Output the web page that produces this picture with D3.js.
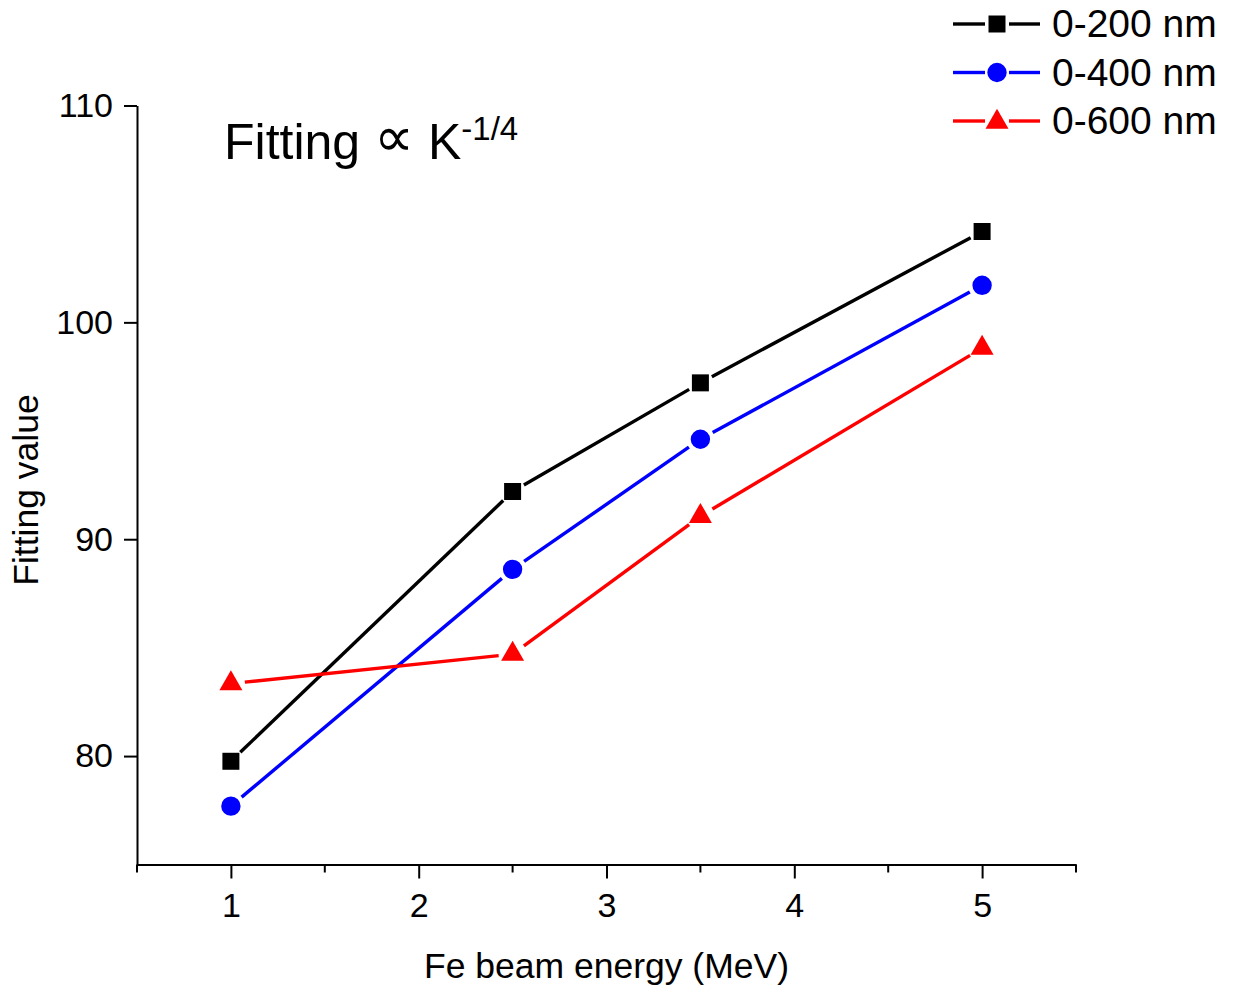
<!DOCTYPE html>
<html>
<head>
<meta charset="utf-8">
<script src="https://cdn.jsdelivr.net/npm/d3@7"></script>
<style>
  html, body { margin: 0; padding: 0; background: #fff; }
  svg { display: block; font-family: "Liberation Sans", Arial, sans-serif; }
</style>
</head>
<body>
<svg id="chart" width="1234" height="989"></svg>
<script>
// Beam energies (MeV)
const energies = [1, 2.5, 3.5, 5];
// Fitting values for each depth range
const depth200 = [79.76, 92.20, 97.21, 104.19];
const depth400 = [77.69, 88.61, 94.61, 101.71];
const depth600 = [83.34, 84.70, 91.06, 98.81];
const seriesNames = ["0-200 nm", "0-400 nm", "0-600 nm"];
const xTicks = [1, 2, 3, 4, 5];
const xMinorTicks = [0.5, 1.5, 2.5, 3.5, 4.5, 5.5];
const yTicks = [80, 90, 100, 110];

const series = [
  { name: seriesNames[0], values: depth200, color: "#000000", shape: "square" },
  { name: seriesNames[1], values: depth400, color: "#0000ff", shape: "circle" },
  { name: seriesNames[2], values: depth600, color: "#ff0000", shape: "triangle" }
];

const svg = d3.select("#chart");

const x = d3.scaleLinear().domain([0.5, 5.5]).range([137, 1076]);
const y = d3.scaleLinear().domain([75, 110]).range([864.5, 105.5]);

// marker shapes centred at (0,0)
function markerPath(shape) {
  if (shape === "square") return "M-8.5,-8.5H8.5V8.5H-8.5Z";
  if (shape === "circle") return d3.symbol(d3.symbolCircle, Math.PI * 9.7 * 9.7)();
  // triangle: apex up, centroid at origin
  const h = 20, w = 23;
  return `M0,${-2 * h / 3}L${w / 2},${h / 3}L${-w / 2},${h / 3}Z`;
}
const gapBy = { square: 13, circle: 14, triangle: 14 };

// x axis with major and minor ticks
const xAxisG = svg.append("g").attr("transform", `translate(0,${y(75)})`);
xAxisG.call(d3.axisBottom(x).tickValues(xTicks).tickFormat(d3.format("d"))
  .tickSize(14).tickSizeOuter(0).tickPadding(14));
xAxisG.selectAll(".minor").data(xMinorTicks).enter().append("line")
  .attr("class", "minor")
  .attr("x1", d => x(d)).attr("x2", d => x(d))
  .attr("y1", 0).attr("y2", 8)
  .attr("stroke", "#000").attr("stroke-width", 2);

// y axis
const yAxisG = svg.append("g").attr("transform", `translate(${x(0.5)},0)`);
yAxisG.call(d3.axisLeft(y).tickValues(yTicks).tickFormat(d3.format("d"))
  .tickSize(13).tickSizeOuter(0).tickPadding(11));

[xAxisG, yAxisG].forEach(g => {
  g.select(".domain").attr("stroke", "#000").attr("stroke-width", 2);
  g.selectAll(".tick line").attr("stroke", "#000").attr("stroke-width", 2);
  g.selectAll(".tick text").attr("font-size", 34).attr("fill", "#000")
    .attr("font-family", "Liberation Sans, Arial, sans-serif");
});

// axis titles
svg.append("text")
  .attr("x", (x(0.5) + x(5.5)) / 2).attr("y", 978)
  .attr("text-anchor", "middle").attr("font-size", 35.5)
  .text("Fe beam energy (MeV)");
svg.append("text")
  .attr("transform", `translate(38,${(y(75) + y(110)) / 2 + 5}) rotate(-90)`)
  .attr("text-anchor", "middle").attr("font-size", 35.5)
  .text("Fitting value");

// annotation
const ann = svg.append("text").attr("x", 224).attr("y", 159).attr("font-size", 50);
ann.append("tspan").text("Fitting ");
ann.append("tspan").attr("font-family", "DejaVu Sans").attr("font-size", 56).attr("dy", -3).text("\u221D");
ann.append("tspan").attr("dy", 3).text(" K");
ann.append("tspan").attr("font-size", 33).attr("dy", -19).text("-1/4");

// series: lines broken around markers, then markers
series.forEach(s => {
  const pts = energies.map((e, i) => [x(e), y(s.values[i])]);
  const gap = gapBy[s.shape];
  const g = svg.append("g");
  for (let i = 0; i < pts.length - 1; i++) {
    const [x1, y1] = pts[i], [x2, y2] = pts[i + 1];
    const len = Math.hypot(x2 - x1, y2 - y1);
    const ux = (x2 - x1) / len, uy = (y2 - y1) / len;
    g.append("line")
      .attr("x1", x1 + ux * gap).attr("y1", y1 + uy * gap)
      .attr("x2", x2 - ux * gap).attr("y2", y2 - uy * gap)
      .attr("stroke", s.color).attr("stroke-width", 3.4);
  }
  g.selectAll("path.m").data(pts).enter().append("path")
    .attr("class", "m")
    .attr("d", markerPath(s.shape))
    .attr("transform", d => `translate(${d[0]},${d[1]})`)
    .attr("fill", s.color);
});

// legend
const legend = svg.append("g");
series.forEach((s, i) => {
  const cy = 24 + i * 48.5;
  const row = legend.append("g").attr("transform", `translate(0,${cy})`);
  row.append("line").attr("x1", 953).attr("x2", 985).attr("y1", 0).attr("y2", 0)
    .attr("stroke", s.color).attr("stroke-width", 3.4);
  row.append("line").attr("x1", 1009).attr("x2", 1040).attr("y1", 0).attr("y2", 0)
    .attr("stroke", s.color).attr("stroke-width", 3.4);
  row.append("path").attr("d", markerPath(s.shape))
    .attr("transform", `translate(997,${s.shape === "triangle" ? 1 : 0})`)
    .attr("fill", s.color);
  row.append("text").attr("x", 1052).attr("y", 13).attr("font-size", 39)
    .text(s.name);
});
</script>
</body>
</html>
